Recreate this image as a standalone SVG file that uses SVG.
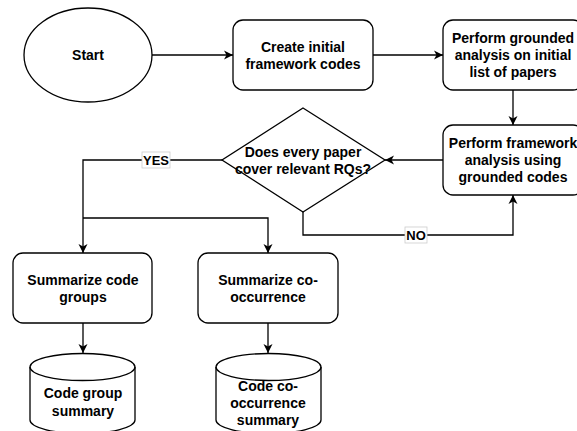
<svg xmlns="http://www.w3.org/2000/svg" width="577" height="431" viewBox="0 0 577 431">
<style>
.s{fill:#fff;stroke:#000;stroke-width:1.3}
.t{font-family:"Liberation Sans",Arial,sans-serif;font-weight:bold;font-size:14px;text-anchor:middle;fill:#000}
.c{fill:none;stroke:#000;stroke-width:1.3}
.lb{fill:#fff;stroke:#ccc;stroke-width:0.8}
.l{font-family:"Liberation Sans",Arial,sans-serif;font-weight:bold;font-size:13px;text-anchor:middle;fill:#000}
</style>
<defs>
<marker id="a" markerWidth="10" markerHeight="10" refX="9" refY="5" orient="auto" markerUnits="userSpaceOnUse">
<path d="M0,0.5 L9,5 L0,9.5 L2.5,5 Z" fill="#000"/>
</marker>
</defs>
<rect width="577" height="431" fill="#fff"/>
<g id="connectors">
<line class="c" x1="152" y1="55" x2="233" y2="55" marker-end="url(#a)"/>
<line class="c" x1="373" y1="55" x2="443" y2="55" marker-end="url(#a)"/>
<line class="c" x1="513" y1="90" x2="513" y2="125" marker-end="url(#a)"/>
<line class="c" x1="443" y1="160" x2="385" y2="160" marker-end="url(#a)"/>
<polyline class="c" points="303,212 303,235 513,235 513,195" marker-end="url(#a)"/>
<polyline class="c" points="223,160 83,160 83,253" marker-end="url(#a)"/>
<polyline class="c" points="83,218 268,218 268,253" marker-end="url(#a)"/>
<line class="c" x1="83" y1="323" x2="83" y2="353" marker-end="url(#a)"/>
<line class="c" x1="268" y1="323" x2="268" y2="353" marker-end="url(#a)"/>
<rect class="lb" x="142" y="152" width="28" height="16"/>
<text class="l" x="156" y="165">YES</text>
<rect class="lb" x="405" y="227" width="22" height="16"/>
<text class="l" x="416" y="240">NO</text>
</g>
<g id="start">
<ellipse class="s" cx="88" cy="55" rx="64" ry="47"/>
<text class="t" x="88" y="60">Start</text>
</g>
<g id="create">
<rect class="s" x="233" y="20" width="140" height="70" rx="10"/>
<text class="t" x="303" y="52">Create initial</text>
<text class="t" x="303" y="69">framework codes</text>
</g>
<g id="grounded">
<rect class="s" x="443" y="20" width="140" height="70" rx="10"/>
<text class="t" x="513" y="43">Perform grounded</text>
<text class="t" x="513" y="60">analysis on initial</text>
<text class="t" x="513" y="77">list of papers</text>
</g>
<g id="framework">
<rect class="s" x="443" y="125" width="140" height="70" rx="10"/>
<text class="t" x="513" y="148">Perform framework</text>
<text class="t" x="513" y="165">analysis using</text>
<text class="t" x="513" y="182">grounded codes</text>
</g>
<g id="decision">
<polygon class="s" points="303,108 385,160 303,212 222,160"/>
<text class="t" x="303" y="157">Does every paper</text>
<text class="t" x="303" y="174">cover relevant RQs?</text>
</g>
<g id="groups">
<rect class="s" x="13" y="253" width="139" height="70" rx="10"/>
<text class="t" x="83" y="285">Summarize code</text>
<text class="t" x="83" y="302">groups</text>
</g>
<g id="cooc">
<rect class="s" x="198" y="253" width="140" height="70" rx="10"/>
<text class="t" x="268" y="285">Summarize co-</text>
<text class="t" x="268" y="302">occurrence</text>
</g>
<g id="groupsummary">
<path class="s" d="M30,367 A52.5,13.5 0 0 1 135,367 L135,420 A52.5,13.5 0 0 1 30,420 Z"/>
<path class="c" d="M30,367 A52.5,13.5 0 0 0 135,367"/>
<text class="t" x="83" y="398">Code group</text>
<text class="t" x="83" y="416">summary</text>
</g>
<g id="coocsummary">
<path class="s" d="M216,367 A52.5,13.5 0 0 1 321,367 L321,420 A52.5,13.5 0 0 1 216,420 Z"/>
<path class="c" d="M216,367 A52.5,13.5 0 0 0 321,367"/>
<text class="t" x="268" y="391">Code co-</text>
<text class="t" x="268" y="408">occurrence</text>
<text class="t" x="268" y="425">summary</text>
</g>
</svg>
